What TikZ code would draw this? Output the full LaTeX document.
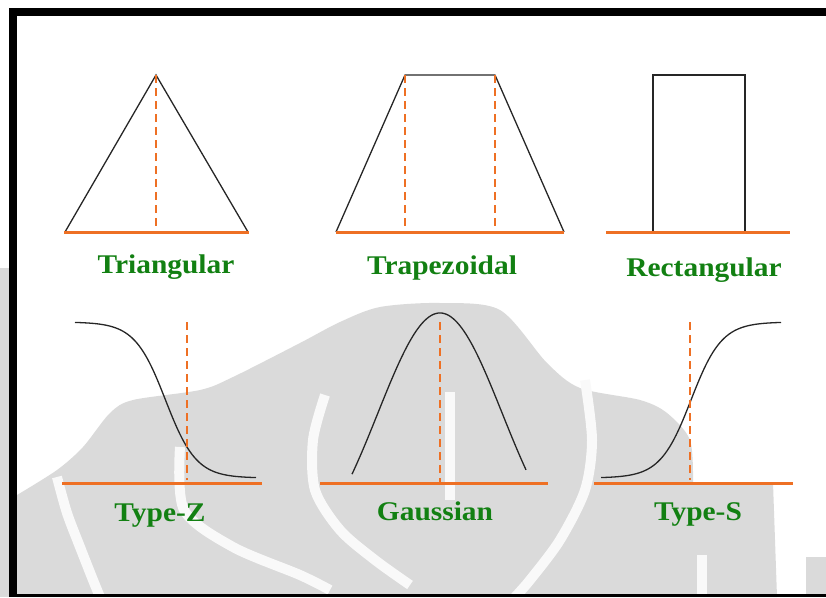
\documentclass[tikz,border=0pt]{standalone}
\usepackage{fontspec}
\setmainfont{Liberation Serif}
\definecolor{mforange}{RGB}{238,112,36}
\definecolor{mfgreen}{RGB}{18,128,18}
\definecolor{wmgray}{RGB}{218,218,218}

\begin{document}
\begin{tikzpicture}[x=1pt,y=-1pt,
    mfline/.style={line width=1.3pt,black!85},
    mfbase/.style={line width=3pt,mforange},
    mfmark/.style={line width=1.1pt,mforange,dash pattern=on 8pt off 5pt},
    mflabel/.style={anchor=base,text=mfgreen,inner sep=0pt,xscale=1.09,
      font=\fontsize{27}{27}\selectfont\bfseries},
    wmband/.style={white!85!wmgray,line width=10pt}]
  \useasboundingbox (0,0) rectangle (826,597); % 画像全体の範囲
  \fill[wmgray] (0,268) rectangle (9,597); % 左端の灰色の帯（透かし）
  \fill[wmgray] plot[smooth] coordinates {(17,495) (57,470) (83,447) (110,413)
      (133,400) (200,390) (233,377) (300,343) (340,322) (380,307) (440,303)
      (500,310) (547,363) (580,388) (640,400) (667,413) (690,440) (693,483)}
    -- (773,483) -- (777,597) -- (17,597) -- cycle; % 透かしの灰色部分
  \fill[wmgray] (806,557) rectangle (826,597); % 右下の灰色部分
  \draw[wmband] plot[smooth] coordinates {(57,477) (67,513) (80,547) (93,580) (100,597)}; % 透かしの白い弧
  \draw[wmband] plot[smooth] coordinates {(180,447) (184,510) (233,547) (300,575) (330,590)};
  \draw[wmband] plot[smooth] coordinates {(325,395) (313,440) (315,490) (340,530) (375,560) (410,585)};
  \draw[wmband] (450,392) -- (450,500);
  \draw[wmband] plot[smooth] coordinates {(585,380) (592,440) (585,490) (560,540) (530,580) (515,597)};
  \draw[wmband] (702,555) -- (702,597);
  \fill[black] (9,8) rectangle (826,16); % 上側の黒枠
  \fill[black] (9,8) rectangle (17,597); % 左側の黒枠
  \fill[black] (9,594) rectangle (826,597); % 下側の黒枠

  \draw[mfline] (65,232) -- (156,75) -- (248,232); % 三角形
  \draw[mfmark] (156,75) -- (156,232); % 三角形の頂点の位置
  \draw[mfbase] (64,232) -- (249,232);
  \draw[mfline] (336,232) -- (405,75) -- (495,75) -- (564,232); % 台形
  \draw[mfmark] (405,75) -- (405,232);
  \draw[mfmark] (495,75) -- (495,232);
  \draw[mfbase] (336,232) -- (564,232);
  \draw[mfline] (653,232) -- (653,75) -- (745,75) -- (745,232); % 長方形
  \draw[mfbase] (606,232) -- (790,232);

  \draw[mfline,domain=-90.5:90.5,samples=80,smooth,variable=\t]
    plot ({165.5+\t},{322+156/(1+exp(-0.065*\t))}); % Z型の曲線
  \draw[mfmark] (187,322) -- (187,480);
  \draw[mfbase] (62,483) -- (262,483);
  \draw[mfline,domain=-88:86,samples=80,smooth,variable=\t]
    plot ({440+\t},{313+255*(1-exp(-(\t/88)*(\t/88)))}); % ガウス型の曲線
  \draw[mfmark] (440,322) -- (440,483);
  \draw[mfbase] (320,483) -- (548,483);
  \draw[mfline,domain=-90:90,samples=80,smooth,variable=\t]
    plot ({691+\t},{478-156/(1+exp(-0.065*\t))}); % S型の曲線
  \draw[mfmark] (690,322) -- (690,480);
  \draw[mfbase] (594,483) -- (793,483);

  \node[mflabel] (triLabel) at (166,273) {Triangular};
  \node[mflabel] (trapLabel) at (442,274) {Trapezoidal};
  \node[mflabel] (rectLabel) at (704,276) {Rectangular};
  \node[mflabel] (zLabel) at (160,521) {Type-Z};
  \node[mflabel] (gaussLabel) at (435,520) {Gaussian};
  \node[mflabel] (sLabel) at (698,520) {Type-S};
\end{tikzpicture}
\end{document}
